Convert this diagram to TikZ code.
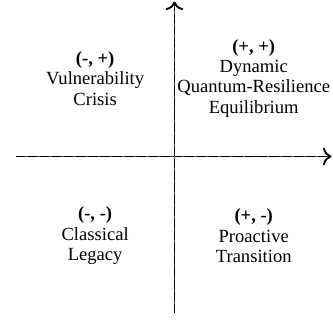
\documentclass[tikz,border=0pt]{standalone}
\usepackage{fontspec}
\setmainfont{Liberation Serif}
\usetikzlibrary{arrows.meta}

\begin{document}
\begin{tikzpicture}[
  font=\fontsize{10}{11}\selectfont,
  axisbase/.style={draw=black!70, line width=1pt},
  axis/.style={-{To[scale=1.2]}, draw=black, line width=1pt, dash pattern=on 5pt off 1.5pt},
  quad/.style={align=center, inner sep=2pt}
]
\useasboundingbox (-3.3,-3.08) rectangle (3.0,2.96);

% axes
\coordinate (xl) at (-3,0);
\coordinate (xr) at (2.97,0);
\coordinate (yb) at (0,-2.96);
\coordinate (yt) at (0,2.93);
\foreach \a/\b in {xl/xr,yb/yt}{
  \draw[axisbase] (\a) -- (\b);
  \draw[axis] (\a) -- (\b);
}

% quadrants
\node[quad] (pp) at (1.5,1.48) {\textbf{(+, +)}\\Dynamic\\Quantum-Resilience\\Equilibrium};
\node[quad] (mp) at (-1.5,1.48) {\textbf{(-, +)}\\Vulnerability\\Crisis};
\node[quad] (mm) at (-1.5,-1.5) {\textbf{(-, -)}\\Classical\\Legacy};
\node[quad] (pm) at (1.5,-1.5) {\textbf{(+, -)}\\Proactive\\Transition};

\end{tikzpicture}
\end{document}
